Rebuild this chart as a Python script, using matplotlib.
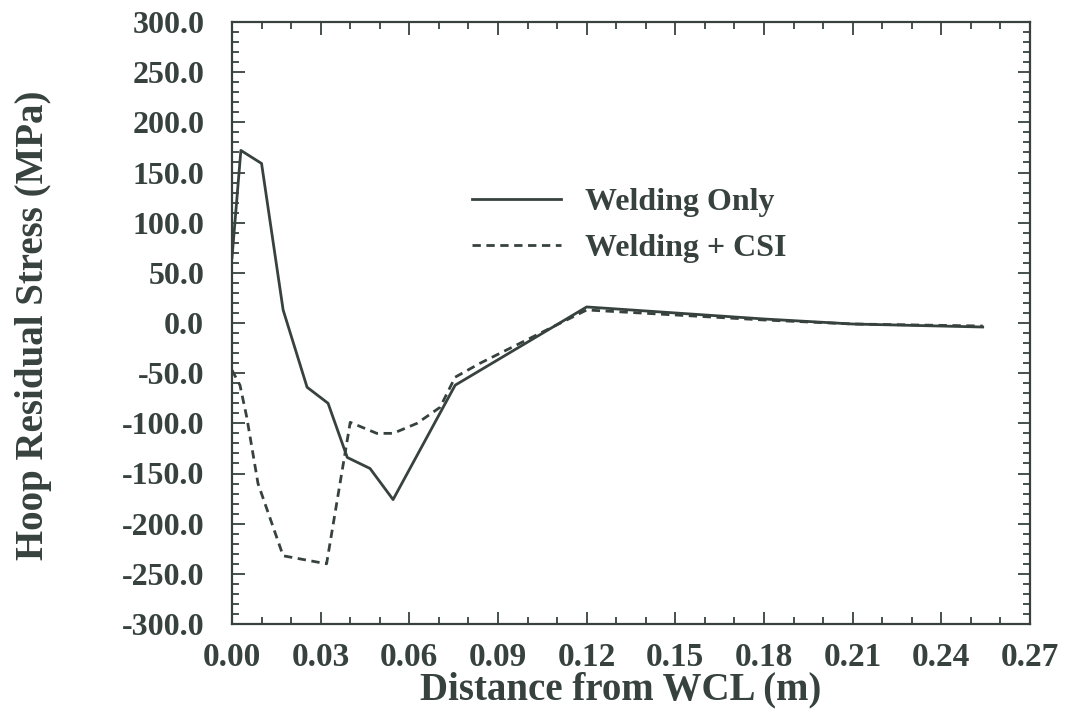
import matplotlib
matplotlib.use("Agg")
import matplotlib.pyplot as plt
from matplotlib.ticker import MultipleLocator, FormatStrFormatter

# Hoop residual stress along the pipe, distance from weld centre line
x_weld = [0.000, 0.003, 0.010, 0.0173, 0.0254, 0.0325, 0.039, 0.0467, 0.0545,
          0.0755, 0.120, 0.150, 0.180, 0.210, 0.254]
s_weld = [65, 172, 159, 13, -64, -80, -134, -145, -176,
          -62, 16, 10, 4, -1, -4]

x_csi = [0.000, 0.0027, 0.005, 0.0088, 0.0173, 0.032, 0.040, 0.049, 0.0545,
         0.0626, 0.0704, 0.0755, 0.084, 0.120, 0.150, 0.180, 0.210, 0.254]
s_csi = [-47, -62, -94, -160, -232, -240, -99, -110, -110,
         -100, -84, -54, -40, 13, 8, 3, -1, -3]

ink = "#37423e"
plt.rcParams["font.family"] = ["Liberation Serif", "DejaVu Serif"]
plt.rcParams["font.weight"] = "bold"

W, H = 1065, 715
fig = plt.figure(figsize=(W / 100, H / 100), dpi=100)
ax = fig.add_axes([232 / W, 1 - 624 / H, (1030 - 232) / W, (624 - 22) / H])

ax.plot(x_weld, s_weld, color=ink, lw=2.0, label="Welding Only")
ax.plot(x_csi, s_csi, color=ink, lw=2.0, dashes=(3.0, 2.0), label="Welding + CSI")

ax.set_xlim(0, 0.27)
ax.set_ylim(-300, 300)
ax.xaxis.set_major_locator(MultipleLocator(0.03))
ax.xaxis.set_minor_locator(MultipleLocator(0.01))
ax.yaxis.set_major_locator(MultipleLocator(50))
ax.yaxis.set_minor_locator(MultipleLocator(10))
ax.xaxis.set_major_formatter(FormatStrFormatter("%.2f"))
ax.yaxis.set_major_formatter(FormatStrFormatter("%.1f"))

ax.tick_params(which="both", direction="in", top=True, right=True, color=ink,
               labelcolor=ink, width=1.3)
ax.tick_params(which="major", length=9)
ax.tick_params(which="minor", length=5)
ax.tick_params(axis="y", which="major", labelsize=23, pad=20)
ax.tick_params(axis="x", which="major", labelsize=24, pad=13)
for sp in ax.spines.values():
    sp.set_color(ink)
    sp.set_linewidth(1.6)

ax.set_xlabel("Distance from WCL (m)", fontsize=28, fontweight="bold", color=ink)
ax.set_ylabel("Hoop Residual Stress (MPa)", fontsize=28, fontweight="bold", color=ink)
ax.xaxis.set_label_coords(621 / W, 1 - 690 / H, transform=fig.transFigure)
ax.yaxis.set_label_coords(34 / W, 1 - 325 / H, transform=fig.transFigure)
ax.xaxis.label.set_va("center")
ax.yaxis.label.set_va("center")

leg = ax.legend(loc="upper left", bbox_to_anchor=(472 / W, 1 - 188 / H),
                bbox_transform=fig.transFigure, frameon=False, fontsize=23,
                handlelength=2.8, handletextpad=0.75, labelspacing=0.5, borderpad=0,
                borderaxespad=0)
for t in leg.get_texts():
    t.set_color(ink)

fig.savefig("out.png", dpi=100, facecolor="white")
